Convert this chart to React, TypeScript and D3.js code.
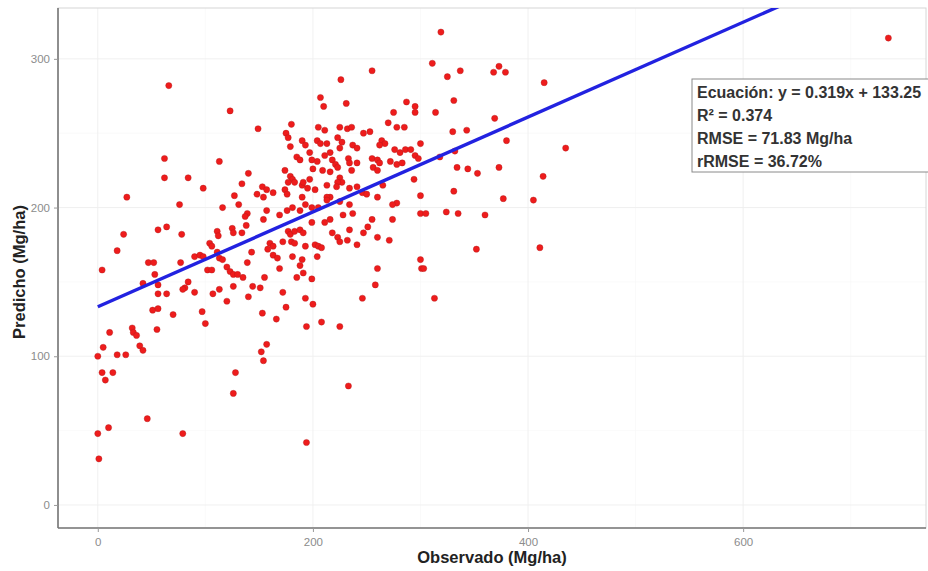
import React, { useEffect, useRef } from "react";
import * as d3 from "d3";

// valores (Mg/ha)
const observado = [
  66, 123, 62, 113, 62, 84, 98, 27, 134, 140, 76, 116, 127, 131, 139, 137, 56, 64, 24, 78,
  111, 112, 125, 126, 134, 138, 18, 104, 106, 111, 90, 95, 98, 113, 116, 47, 52, 77, 139,
  4, 102, 106, 120, 123, 126, 130, 135, 53, 42, 56, 84, 81, 79, 90, 56, 64, 107, 113, 126,
  120, 140, 51, 56, 70, 97, 100, 32, 33, 36, 55, 11, 39, 42, 5, 0, 18, 26, 4, 7, 14, 128,
  126, 46, 10, 0, 79, 1,
  255, 226, 207, 210, 231, 287, 275, 180, 149, 270, 278, 285, 205, 211, 225, 232, 236, 247,
  253, 175, 177, 179, 190, 193, 204, 207, 213, 223, 227, 225, 237, 241, 264, 267, 262, 276,
  281, 286, 197, 199, 185, 188, 211, 216, 218, 221, 223, 204, 233, 234, 236, 255, 260, 262,
  256, 260, 272, 278, 283, 241, 200, 209, 216, 174, 179, 181, 177, 183, 190, 191, 225, 227,
  223, 213, 222, 197, 153, 157, 148, 163, 174, 176, 190, 195, 202, 234, 241, 246, 250, 260,
  265, 216, 213, 154,
  213, 225, 234, 237, 228, 278, 274, 157, 154, 169, 176, 181, 188, 193, 199, 205, 274, 255,
  251, 247, 211, 216, 199, 234, 218, 223, 225, 232, 177, 179, 183, 188, 191, 172, 180, 183,
  160, 163, 158, 202, 205, 208, 204, 193, 241, 260, 271, 143, 163, 167, 181, 190, 188, 191,
  169, 260, 155, 185, 199, 258, 144, 151, 172, 193, 246, 200, 175, 153, 166, 208, 194, 225,
  157,
  152, 154, 233, 194,
  319, 311, 325, 337, 368, 373, 379, 415, 295, 295, 314, 331, 369, 330, 343, 380, 300, 291,
  295, 298, 332, 318, 334, 344, 353, 373, 294, 414, 300, 331, 377, 405,
  300, 305, 324, 335, 360, 352, 411, 300, 301, 303, 313,
  435, 735,
];

const predicho = [
  282, 265, 233, 231, 220, 220, 213, 207, 216, 223, 202, 200, 208, 202, 196, 194, 185, 187,
  182, 182, 184, 181, 186, 183, 183, 188, 171, 176, 174, 170, 167, 168, 167, 166, 165, 163,
  163, 163, 163,
  158, 158, 158, 160, 157, 155, 155, 153, 155, 149, 148, 150, 146, 145, 143, 142, 142, 142,
  145, 147, 137, 140, 131, 132, 128, 130, 122, 119, 116, 114, 118, 116, 107, 104, 106, 100,
  101, 101, 89, 84, 89, 89, 75, 58, 52, 48, 48, 31,
  292, 286, 274, 268, 270, 271, 264, 256, 253, 257, 254, 254, 254, 252, 254, 253, 254, 250,
  251, 250, 247, 241, 245, 242, 245, 243, 243, 247, 244, 240, 242, 240, 245, 243, 242, 239,
  237, 239, 237, 232, 234, 232, 235, 237, 232, 229, 227, 231, 233, 230, 225, 233, 232, 230,
  227, 225, 231, 229, 230, 230, 226, 225, 224, 225, 221, 219, 217, 217, 215, 217, 220, 217,
  217, 215, 214, 219, 214, 212, 209, 210, 212, 209, 207, 213, 212, 213, 214, 210, 209, 207,
  215, 207, 207, 207,
  205, 204, 202, 196, 195, 203, 202, 198, 192, 195, 198, 200, 198, 202, 200, 200, 192, 192,
  187, 183, 190, 192, 190, 185, 183, 180, 177, 178, 184, 182, 184, 185, 183, 177, 177, 176,
  176, 174, 172, 175, 174, 173, 167, 174, 175, 180, 178, 170, 168, 166, 167, 165, 161, 156,
  159, 159, 153, 153, 152, 148, 147, 146, 143, 139, 139, 135, 133, 129, 125, 123, 120, 120,
  108,
  103, 97, 80, 42,
  318, 297, 288, 292, 291, 295, 291, 284, 268, 264, 264, 272, 260, 251, 252, 245, 243, 239,
  235, 233, 238, 234, 227, 226, 223, 227, 219, 221, 208, 211, 206, 205,
  196, 196, 197, 196, 195, 172, 173, 165, 159, 159, 139,
  240, 314,
];

// recta de ajuste
const pendiente = 0.319;
const intercepto = 133.25;

const xTicks = [0, 200, 400, 600];
const yTicks = [0, 100, 200, 300];

const estadisticos = [
  "Ecuación: y = 0.319x + 133.25",
  "R² = 0.374",
  "RMSE = 71.83 Mg/ha",
  "rRMSE = 36.72%",
];

const App = () => {
  const svgRef = useRef<SVGSVGElement | null>(null);

  const width = 928;
  const height = 571;
  const margin = { top: 8, right: 2, bottom: 43, left: 58 };

  useEffect(() => {
    const svg = d3.select(svgRef.current);
    svg.selectAll("*").remove();

    const innerW = width - margin.left - margin.right;
    const innerH = height - margin.top - margin.bottom;

    const x = d3.scaleLinear().domain([-37, 770]).range([0, innerW]);
    const y = d3.scaleLinear().domain([-15.5, 334.2]).range([innerH, 0]);

    svg.append("defs")
      .append("clipPath")
      .attr("id", "panel")
      .append("rect")
      .attr("width", innerW)
      .attr("height", innerH);

    const g = svg
      .append("g")
      .attr("transform", `translate(${margin.left},${margin.top})`);

    // rejilla
    const minX = [-100, 100, 300, 500, 700];
    const minY = [50, 150, 250];
    g.selectAll(".gx2").data(minX).enter().append("line")
      .attr("x1", (d) => x(d)).attr("x2", (d) => x(d))
      .attr("y1", 0).attr("y2", innerH)
      .attr("stroke", "#f6f6f6").attr("stroke-width", 0.6);
    g.selectAll(".gy2").data(minY).enter().append("line")
      .attr("y1", (d) => y(d)).attr("y2", (d) => y(d))
      .attr("x1", 0).attr("x2", innerW)
      .attr("stroke", "#f6f6f6").attr("stroke-width", 0.6);
    g.selectAll(".gx").data(xTicks).enter().append("line")
      .attr("x1", (d) => x(d)).attr("x2", (d) => x(d))
      .attr("y1", 0).attr("y2", innerH)
      .attr("stroke", "#eeeeee").attr("stroke-width", 0.9);
    g.selectAll(".gy").data(yTicks).enter().append("line")
      .attr("y1", (d) => y(d)).attr("y2", (d) => y(d))
      .attr("x1", 0).attr("x2", innerW)
      .attr("stroke", "#eeeeee").attr("stroke-width", 0.9);

    // borde del panel
    g.append("rect")
      .attr("width", innerW)
      .attr("height", innerH)
      .attr("fill", "none")
      .attr("stroke", "#d6d6d6")
      .attr("stroke-width", 1);

    // puntos
    const puntos = observado.map((o, i) => [o, predicho[i]]);
    g.append("g")
      .attr("clip-path", "url(#panel)")
      .selectAll("circle")
      .data(puntos)
      .enter()
      .append("circle")
      .attr("cx", (d) => x(d[0]))
      .attr("cy", (d) => y(d[1]))
      .attr("r", 3.1)
      .attr("fill", "#ee1c1c")
      .attr("stroke", "#b01818")
      .attr("stroke-width", 0.4);

    // recta de regresion
    const linea = d3
      .line<number>()
      .x((d) => x(d))
      .y((d) => y(pendiente * d + intercepto));
    g.append("path")
      .attr("clip-path", "url(#panel)")
      .attr("d", linea([0, d3.max(observado) as number]))
      .attr("fill", "none")
      .attr("stroke", "#2222e0")
      .attr("stroke-width", 3.4);

    // ejes
    const ejeX = g
      .append("g")
      .attr("transform", `translate(0,${innerH})`)
      .call(d3.axisBottom(x).tickValues(xTicks).tickSize(4).tickPadding(6));
    const ejeY = g
      .append("g")
      .call(d3.axisLeft(y).tickValues(yTicks).tickSize(4).tickPadding(4));
    [ejeX, ejeY].forEach((eje) => {
      eje.select(".domain").attr("stroke", "#777777").attr("stroke-width", 1.6);
      eje.selectAll(".tick line").attr("stroke", "#999999");
      eje
        .selectAll(".tick text")
        .attr("fill", "#8c8c8c")
        .attr("font-size", 11.5)
        .attr("font-family", "Liberation Sans, Arial, sans-serif");
    });
    ejeX.select(".domain").attr("d", `M0,0H${innerW}`);
    ejeY.select(".domain").attr("d", `M0,0V${innerH}`);

    // titulos
    svg.append("text")
      .attr("x", margin.left + innerW / 2)
      .attr("y", 563)
      .attr("text-anchor", "middle")
      .attr("font-family", "Liberation Sans, Arial, sans-serif")
      .attr("font-weight", "bold")
      .attr("font-size", 16.5)
      .attr("fill", "#222")
      .text("Observado (Mg/ha)");
    svg.append("text")
      .attr("transform", `translate(25,${margin.top + innerH / 2 + 4}) rotate(-90)`)
      .attr("text-anchor", "middle")
      .attr("font-family", "Liberation Sans, Arial, sans-serif")
      .attr("font-weight", "bold")
      .attr("font-size", 16.5)
      .attr("fill", "#222")
      .text("Predicho (Mg/ha)");

    // cuadro de estadisticos
    svg.append("rect")
      .attr("x", 692)
      .attr("y", 79)
      .attr("width", 250)
      .attr("height", 93)
      .attr("fill", "white")
      .attr("stroke", "#8a8a8a")
      .attr("stroke-width", 1);
    svg.append("g")
      .selectAll("text")
      .data(estadisticos)
      .enter()
      .append("text")
      .attr("x", 697)
      .attr("y", (_, i) => 98 + i * 23)
      .attr("font-family", "Liberation Sans, Arial, sans-serif")
      .attr("font-weight", "bold")
      .attr("font-size", 16)
      .attr("fill", "#333")
      .text((d) => d);
  }, []);

  return (
    <svg
      ref={svgRef}
      width={width}
      height={height}
      style={{ position: "absolute", left: 0, top: 0, background: "white" }}
    ></svg>
  );
};

export default App;
